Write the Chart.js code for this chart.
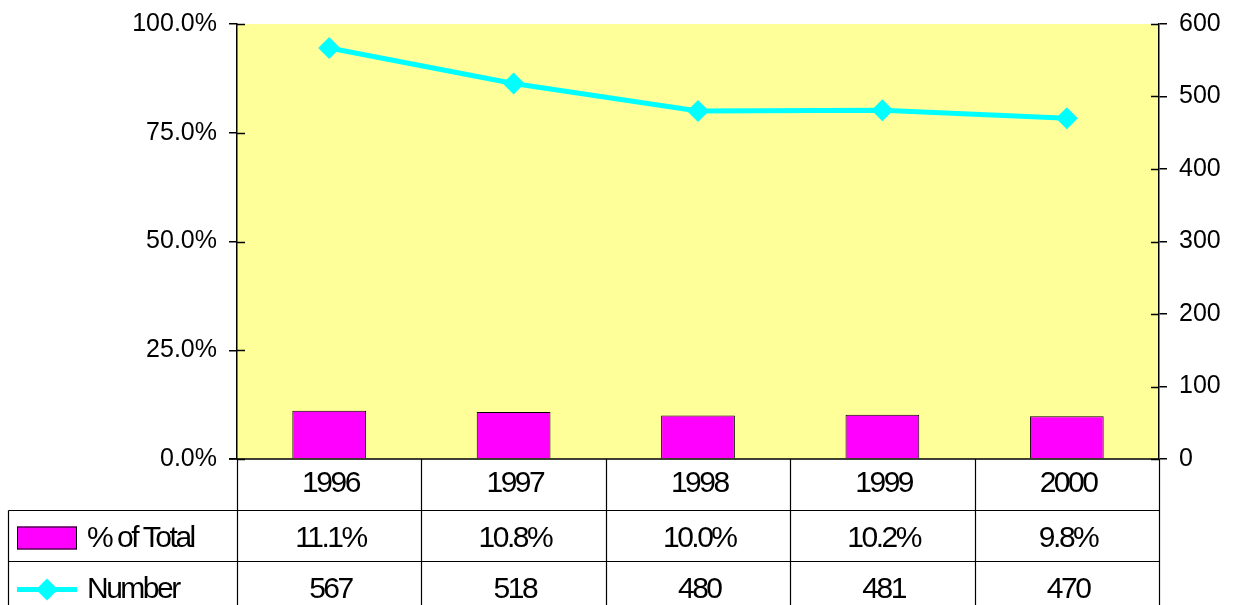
<!DOCTYPE html>
<html>
<head>
<meta charset="utf-8">
<script src="https://cdn.jsdelivr.net/npm/chart.js@4"></script>
<style>
  html, body { margin: 0; padding: 0; background: #fff; }
  #wrap { width: 1236px; height: 605px; }
</style>
</head>
<body>
<div id="wrap"><canvas id="chart" width="1236" height="605"></canvas></div>
<script>
const years = ['1996', '1997', '1998', '1999', '2000'];
const pctOfTotal = [11.1, 10.8, 10.0, 10.2, 9.8];
const numbers = [567, 518, 480, 481, 470];
const pctTicks = [0, 25, 50, 75, 100];
const numTicks = [0, 100, 200, 300, 400, 500, 600];

const tableRows = [
    { label: '% of Total', values: pctOfTotal.map(v => v.toFixed(1) + '%'), kind: 'bar' },
    { label: 'Number', values: numbers.map(v => String(v)), kind: 'line' }
];

const tightText = (ctx, text, x, y, align) => {
    ctx.save();
    ctx.letterSpacing = '-2.5px';
    ctx.textAlign = 'left';
    ctx.textBaseline = 'middle';
    const w = ctx.measureText(text).width - 2.5;
    const sx = align === 'center' ? x - w / 2 : x;
    ctx.fillText(text, sx, y);
    ctx.restore();
};

const plotAndTable = {
    id: 'plotAndTable',
    beforeDraw(chart) {
        const { ctx, chartArea: a } = chart;
        ctx.save();
        ctx.fillStyle = '#FFFF99';
        ctx.fillRect(a.left, a.top, a.right - a.left, a.bottom - a.top);
        ctx.restore();
    },
    afterDraw(chart) {
        const { ctx, chartArea: a, scales } = chart;
        const x = scales.x;
        const step = x.getPixelForValue(1) - x.getPixelForValue(0);
        const rowH = 51;
        const r1 = a.bottom + rowH + 0.5;
        const r2 = r1 + rowH;
        const leftEdge = 8.5;
        const bottom = chart.height + 2;

        ctx.save();
        ctx.strokeStyle = '#000';
        ctx.lineWidth = 1.5;

        // inner half of the crossing tick marks
        scales.y.ticks.forEach(t => {
            const py = Math.round(scales.y.getPixelForValue(t.value)) + 0.5;
            ctx.beginPath(); ctx.moveTo(a.left, py); ctx.lineTo(a.left + 8, py); ctx.stroke();
        });
        scales.y1.ticks.forEach(t => {
            const py = Math.round(scales.y1.getPixelForValue(t.value)) + 0.5;
            ctx.beginPath(); ctx.moveTo(a.right - 8, py); ctx.lineTo(a.right, py); ctx.stroke();
        });

        // plot bottom line
        ctx.beginPath(); ctx.moveTo(a.left - 8, a.bottom); ctx.lineTo(a.right, a.bottom); ctx.stroke();

        // table grid
        ctx.lineWidth = 1.2;
        for (let i = 0; i <= years.length; i++) {
            const px = Math.round(x.getPixelForValue(0) - step / 2 + i * step) + 0.5;
            ctx.beginPath(); ctx.moveTo(px, a.bottom); ctx.lineTo(px, bottom); ctx.stroke();
        }
        [r1, r2].forEach(py => {
            ctx.beginPath(); ctx.moveTo(leftEdge, py); ctx.lineTo(a.right, py); ctx.stroke();
        });
        ctx.beginPath(); ctx.moveTo(leftEdge, r1); ctx.lineTo(leftEdge, bottom); ctx.stroke();

        // table text
        ctx.fillStyle = '#000';
        ctx.font = '30px "Liberation Sans", Arial, sans-serif';
        years.forEach((yr, i) => {
            tightText(ctx, yr, x.getPixelForValue(i), a.bottom + 25, 'center');
        });
        tableRows.forEach((row, r) => {
            const cy = r1 + 28 + r * rowH;
            row.values.forEach((v, i) => tightText(ctx, v, x.getPixelForValue(i), cy, 'center'));
            tightText(ctx, row.label, 87, cy, 'left');
            if (row.kind === 'bar') {
                ctx.fillStyle = '#FF00FF';
                ctx.fillRect(17, cy - 12, 60, 23);
                ctx.lineWidth = 1;
                ctx.strokeStyle = '#000';
                ctx.strokeRect(17.5, cy - 11.5, 59, 22);
            } else {
                ctx.strokeStyle = '#00FFFF';
                ctx.lineWidth = 5;
                ctx.beginPath(); ctx.moveTo(17, cy); ctx.lineTo(77, cy); ctx.stroke();
                ctx.fillStyle = '#00FFFF';
                ctx.beginPath();
                ctx.moveTo(47, cy - 11); ctx.lineTo(58, cy); ctx.lineTo(47, cy + 11); ctx.lineTo(36, cy);
                ctx.closePath(); ctx.fill();
            }
            ctx.fillStyle = '#000';
        });
        ctx.restore();
    }
};

const fixWidth = w => s => {
    s.width = w;
    s.paddingTop = 0;
    s.paddingBottom = 0;
};

new Chart(document.getElementById('chart'), {
    type: 'bar',
    data: {
        labels: years,
        datasets: [
            {
                type: 'line',
                label: 'Number',
                data: numbers,
                yAxisID: 'y1',
                borderColor: '#00FFFF',
                backgroundColor: '#00FFFF',
                borderWidth: 5,
                pointStyle: 'rectRot',
                pointRadius: 11,
                pointBorderWidth: 0,
                tension: 0,
                order: 0
            },
            {
                label: '% of Total',
                data: pctOfTotal,
                yAxisID: 'y',
                backgroundColor: '#FF00FF',
                borderColor: '#000',
                borderWidth: 1,
                barPercentage: 0.4,
                categoryPercentage: 1.0,
                order: 1
            }
        ]
    },
    options: {
        responsive: false,
        animation: false,
        layout: { padding: { top: 24, bottom: 146, left: 0, right: 0 } },
        plugins: { legend: { display: false }, tooltip: { enabled: false } },
        scales: {
            x: { display: false },
            y: {
                position: 'left',
                min: 0, max: 100,
                afterBuildTicks: s => { s.ticks = pctTicks.map(v => ({ value: v })); },
                afterFit: fixWidth(237),
                ticks: {
                    callback: v => v.toFixed(1) + '%',
                    color: '#000',
                    padding: 12,
                    font: { family: '"Liberation Sans", Arial, sans-serif', size: 25 }
                },
                grid: { drawOnChartArea: false, tickLength: 8, color: '#000', lineWidth: 1.5 },
                border: { color: '#000', width: 1.5 }
            },
            y1: {
                position: 'right',
                min: 0, max: 600,
                afterBuildTicks: s => { s.ticks = numTicks.map(v => ({ value: v })); },
                afterFit: fixWidth(77),
                ticks: {
                    color: '#000',
                    padding: 12,
                    font: { family: '"Liberation Sans", Arial, sans-serif', size: 25 }
                },
                grid: { drawOnChartArea: false, tickLength: 8, color: '#000', lineWidth: 1.5 },
                border: { color: '#000', width: 1.5 }
            }
        }
    },
    plugins: [plotAndTable]
});
</script>
</body>
</html>
